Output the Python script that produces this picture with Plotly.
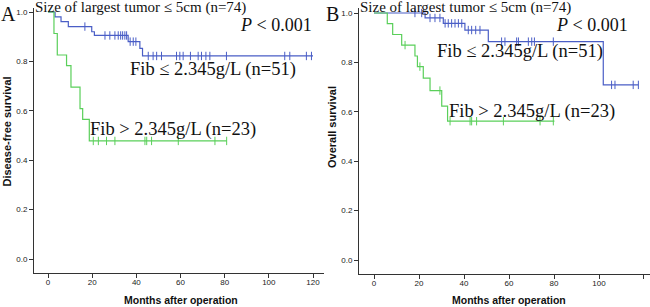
import plotly.graph_objects as go

W, H = 650, 307

# ---------------- data ----------------
# Panel A: Disease-free survival
a_low_t = [0, 3.2, 5.9, 9.2, 19.8, 21.0, 36.3, 41.6, 42.8, 120.0]
a_low_s = [1.0, 0.980, 0.961, 0.941, 0.920, 0.905, 0.880, 0.853, 0.822, 0.822]
a_low_cens = [16.7, 25.8, 28.0, 30.3, 31.8, 32.9, 33.8, 34.8, 35.6, 37.2, 38.6, 39.8,
              45.4, 47.6, 49.2, 51.4, 58.2, 59.7, 61.2, 64.5, 68.0, 69.5, 71.5, 73.3,
              80.8, 107.2, 109.5, 117.0, 119.3]
a_low_cens_s = [0.941, 0.905, 0.905, 0.905, 0.905, 0.905, 0.905, 0.905, 0.905, 0.880, 0.880, 0.880,
                0.822, 0.822, 0.822, 0.822, 0.822, 0.822, 0.822, 0.822, 0.822, 0.822, 0.822, 0.822,
                0.822, 0.822, 0.822, 0.822, 0.822]

a_high_t = [0, 2.7, 4.2, 8.4, 10.4, 14.5, 15.7, 18.7, 81.0]
a_high_s = [1.0, 0.913, 0.826, 0.783, 0.696, 0.609, 0.565, 0.478, 0.478]
a_high_cens = [20.5, 22.8, 26.5, 30.3, 43.9, 44.7, 46.9, 59.0, 75.6, 80.9]
a_high_cens_s = [0.478] * 10

# Panel B: Overall survival
b_low_t = [0, 22.7, 30.8, 40.4, 50.8, 101.9, 117.5]
b_low_s = [1.0, 0.980, 0.958, 0.931, 0.884, 0.709, 0.709]
b_low_cens = [18.2, 21.2, 24.9, 27.1, 29.3, 31.6, 33.0, 34.5, 36.0, 37.5, 39.0,
              41.9, 43.4, 45.2, 47.1, 56.7, 58.2, 63.4, 64.2, 68.6, 70.1, 71.3, 79.7,
              105.6, 107.1, 115.2, 117.5]
b_low_cens_s = [1.0, 1.0, 0.980, 0.980, 0.980, 0.958, 0.958, 0.958, 0.958, 0.958, 0.958,
                0.931, 0.931, 0.931, 0.931, 0.884, 0.884, 0.884, 0.884, 0.884, 0.884, 0.884, 0.884,
                0.709, 0.709, 0.709, 0.709]

b_high_t = [0, 5.9, 8.3, 12.3, 18.2, 19.3, 21.9, 24.9, 30.1, 32.7, 80.2]
b_high_s = [1.0, 0.957, 0.913, 0.870, 0.826, 0.783, 0.736, 0.686, 0.623, 0.562, 0.562]
b_high_cens = [13.8, 20.4, 29.3, 33.8, 42.7, 43.4, 45.6, 57.5, 73.8, 79.7]
b_high_cens_s = [0.870, 0.783, 0.686, 0.562, 0.562, 0.562, 0.562, 0.562, 0.562, 0.562]

x_ticks = [0, 20, 40, 60, 80, 100, 120]
y_ticks = [0.0, 0.2, 0.4, 0.6, 0.8, 1.0]

BLUE = "#4a5ec6"
GREEN = "#5acf5a"

fig = go.Figure()

def add_curve(t, s, ct, cs, color, xa, ya):
    fig.add_trace(go.Scatter(x=t, y=s, mode="lines", line=dict(color=color, width=1.2, shape="hv"),
                             xaxis=xa, yaxis=ya, showlegend=False, hoverinfo="skip"))
    fig.add_trace(go.Scatter(x=ct, y=cs, mode="markers",
                             marker=dict(symbol="line-ns-open", size=6, color=color,
                                         line=dict(color=color, width=1)),
                             xaxis=xa, yaxis=ya, showlegend=False, hoverinfo="skip"))

add_curve(a_low_t, a_low_s, a_low_cens, a_low_cens_s, BLUE, "x", "y")
add_curve(a_high_t, a_high_s, a_high_cens, a_high_cens_s, GREEN, "x", "y")
add_curve(b_low_t, b_low_s, b_low_cens, b_low_cens_s, BLUE, "x2", "y2")
add_curve(b_high_t, b_high_s, b_high_cens, b_high_cens_s, GREEN, "x2", "y2")

def px_x(p):
    return p / W

def px_y(p):
    return (H - p) / H

axis_common = dict(showgrid=False, zeroline=False, showline=True, linecolor="#333333", linewidth=1,
                   ticks="outside", ticklen=4, tickwidth=1, tickcolor="#333333",
                   tickfont=dict(family="Liberation Sans, Arial", size=8, color="#222222"))

fig.update_layout(
    width=W, height=H,
    margin=dict(l=0, r=0, t=0, b=0),
    paper_bgcolor="white", plot_bgcolor="white",
    xaxis=dict(domain=[px_x(34), px_x(324)], range=[-6.34, 124.98], tickvals=x_ticks,
               anchor="y", ticklabelstandoff=-3, **axis_common),
    yaxis=dict(domain=[px_y(273), px_y(8)], range=[-14 / 247, 1 + 4 / 247], tickvals=y_ticks,
               tickformat=".1f", anchor="x", **axis_common),
    xaxis2=dict(domain=[px_x(359), 1.0], range=[-6.67, 122.67], tickvals=x_ticks,
                anchor="y2", ticklabelstandoff=-3, **axis_common),
    yaxis2=dict(domain=[px_y(274), px_y(8)], range=[-14 / 247, 1 + 5 / 247], tickvals=y_ticks,
                tickformat=".1f", anchor="x2", **axis_common),
)

SERIF = "Liberation Serif, Times New Roman"
SANS = "Liberation Sans, Arial"

def ann(text, x, y, size, family=SERIF, xanchor="left", bold=False, angle=0):
    if bold:
        text = "<b>" + text + "</b>"
    fig.add_annotation(text=text, x=px_x(x), y=px_y(y), xref="paper", yref="paper",
                       xanchor=xanchor, yanchor="middle", showarrow=False, textangle=angle,
                       borderpad=0,
                       font=dict(family=family, size=size, color="#111111"))

# Panel A texts
ann("A", 0, 14, 20)
ann("Size of largest tumor \u2264 5cm (n=74)", 34, 7.5, 15)
ann("<i>P</i> < 0.001", 313, 24.5, 18, xanchor="right")
ann("Fib \u2264 2.345g/L (n=51)", 129, 69, 18.5)
ann("Fib > 2.345g/L (n=23)", 89, 129, 18.5)
ann("Disease-free survival", 6.5, 132, 11, family=SANS, xanchor="center", bold=True, angle=-90)
ann("Months after operation", 181, 300, 10.5, family=SANS, xanchor="center", bold=True)

# Panel B texts
ann("B", 325, 14, 20)
ann("Size of largest tumor \u2264 5cm (n=74)", 359, 7.5, 15)
ann("<i>P</i> < 0.001", 629, 24.5, 18, xanchor="right")
ann("Fib \u2264 2.345g/L (n=51)", 436, 52, 18.5)
ann("Fib > 2.345g/L (n=23)", 448, 111, 18.5)
ann("Overall survival", 332, 127, 11, family=SANS, xanchor="center", bold=True, angle=-90)
ann("Months after operation", 509, 300, 10.5, family=SANS, xanchor="center", bold=True)

fig.write_html("out.html", config={"displayModeBar": False},
               post_script="document.body.style.margin='0';document.body.style.overflow='hidden';")
